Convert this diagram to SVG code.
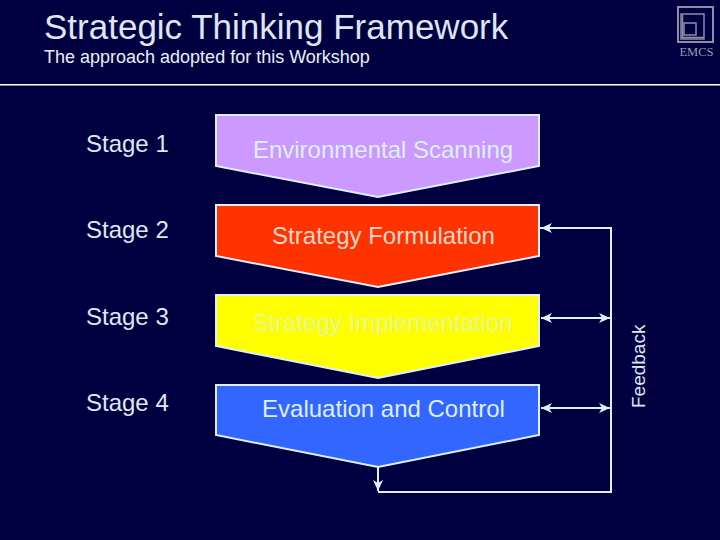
<svg xmlns="http://www.w3.org/2000/svg" width="720" height="540" viewBox="0 0 720 540">
<style>
text{font-family:"Liberation Sans",Arial,sans-serif}
.t{fill:#ddf0ff;font-size:24px;text-anchor:middle}
.s{fill:#dce8f5;font-size:24px}
.n{stroke:#ddf0ff;stroke-width:2}
.c{fill:none;stroke:#ddf0ff;stroke-width:2}
.logo{fill:none;stroke:#8d8da8}
</style>
<defs>
<marker id="a" markerWidth="12" markerHeight="10" refX="11" refY="5" orient="auto-start-reverse" markerUnits="userSpaceOnUse"><path d="M0 0L11 5L0 10L3 5Z" fill="#ddf0ff"/></marker>
</defs>
<rect width="720" height="540" fill="#000040"/>
<text x="44" y="39" font-size="35" fill="#dde6f2">Strategic Thinking Framework</text>
<text x="44" y="63" font-size="18" fill="#e8eef8">The approach adopted for this Workshop</text>
<rect x="0" y="84" width="720" height="1.500" fill="#fff"/>
<g id="logo">
<rect class="logo" x="678" y="7" width="35" height="35" stroke-width="2"/>
<path class="logo" d="M681 14H704V39H681Z" stroke-width="1.500"/>
<path class="logo" d="M682.500 15V37.500H704" stroke-width="1.500"/>
<rect class="logo" x="684" y="23" width="12" height="12" stroke-width="1.500"/>
<text x="696.500" y="56" font-size="12.500" text-anchor="middle" style="font-family:'Liberation Serif',serif" fill="#9a9ab4">EMCS</text>
</g>
<g id="stage1"><text class="s" x="86" y="152">Stage 1</text></g>
<g id="stage2"><text class="s" x="86" y="238">Stage 2</text></g>
<g id="stage3"><text class="s" x="86" y="325">Stage 3</text></g>
<g id="stage4"><text class="s" x="86" y="411">Stage 4</text></g>
<g id="connectors">
<path class="c" d="M539 228H611V492H378"/>
<path class="c" d="M611 228H541" marker-end="url(#a)"/>
<path class="c" d="M541 318H610" marker-start="url(#a)" marker-end="url(#a)"/>
<path class="c" d="M541 408H610" marker-start="url(#a)" marker-end="url(#a)"/>
<path class="c" d="M378 467V491" marker-end="url(#a)"/>
</g>
<g id="scanning"><polygon class="n" points="216,115 539,115 539,166 378,197 216,166" fill="#cc99ff"/><text class="t" x="383" y="158">Environmental Scanning</text></g>
<g id="formulation"><polygon class="n" points="216,205 539,205 539,256 378,287 216,256" fill="#ff3300"/><text class="t" x="383.500" y="244" fill="#ffd8c8" style="fill:#fbd8c8">Strategy Formulation</text></g>
<g id="implementation"><polygon class="n" points="216,295 539,295 539,346 378,378 216,346" fill="#ffff00"/><text class="t" x="383" y="331" style="fill:#e6f59a">Strategy Implementation</text></g>
<g id="evaluation"><polygon class="n" points="216,385 539,385 539,435 378,467 216,435" fill="#3366ff"/><text class="t" x="383.500" y="417">Evaluation and Control</text></g>
<g id="feedback"><text transform="translate(645 408) rotate(-90)" font-size="19" fill="#dce8f5">Feedback</text></g>
</svg>
